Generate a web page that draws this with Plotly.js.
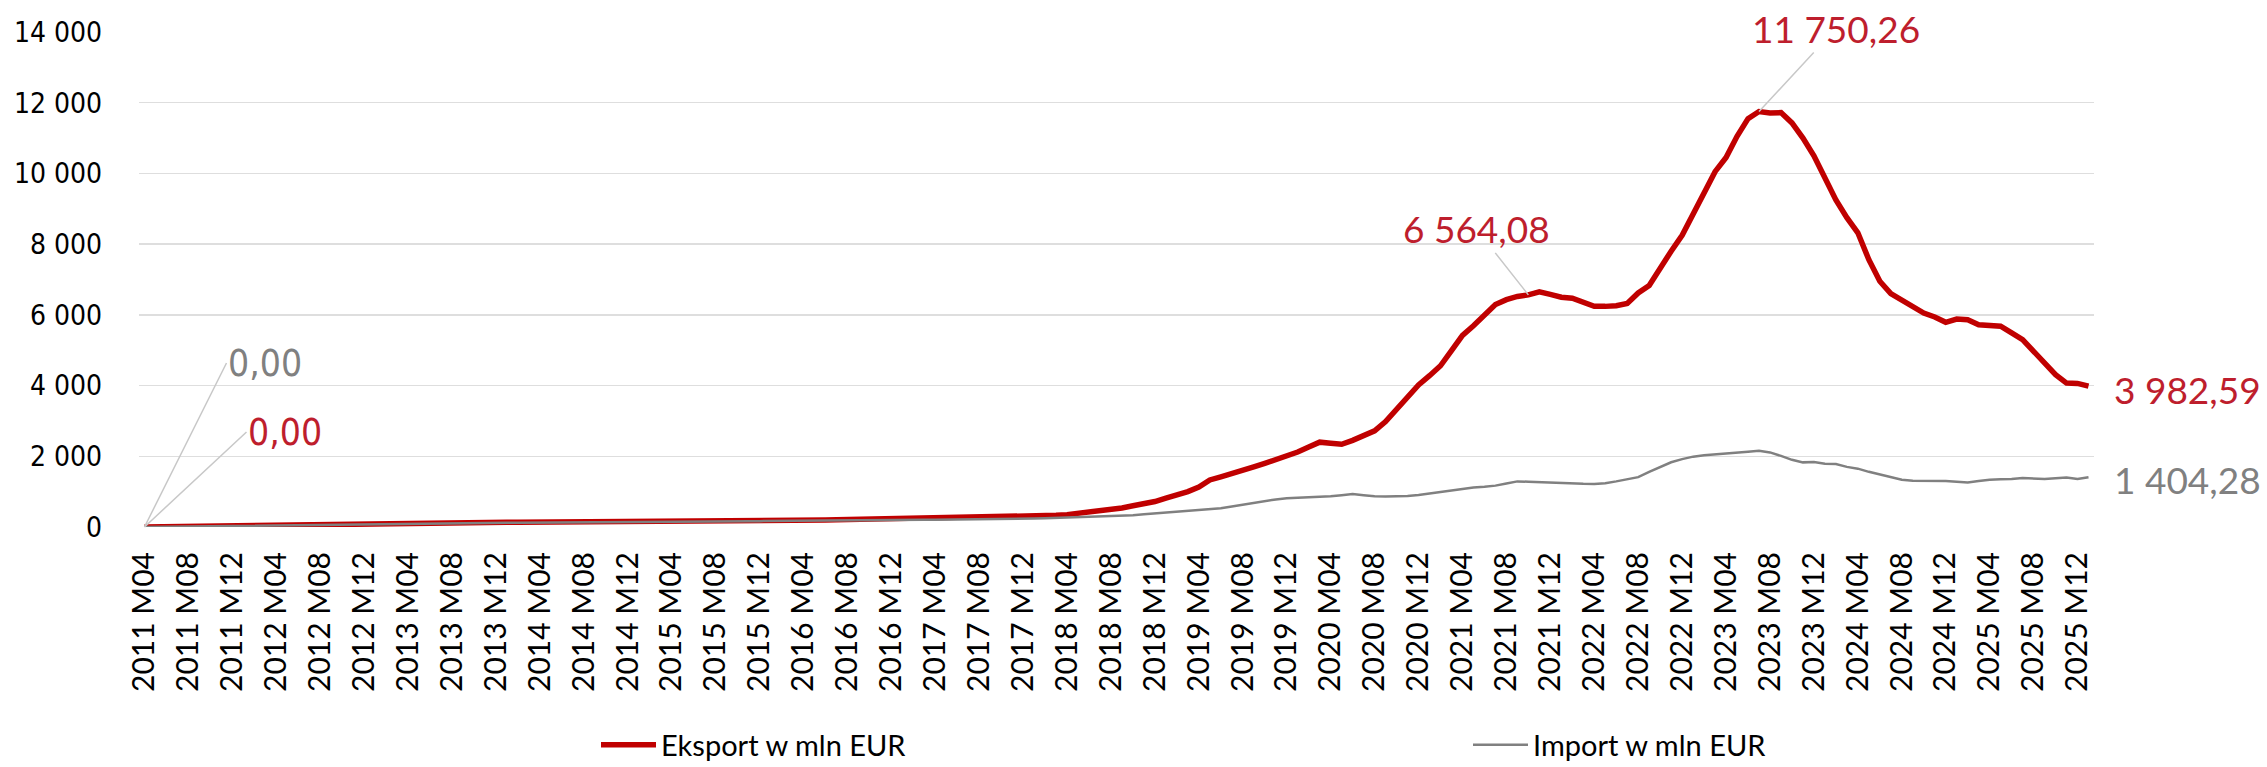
<!DOCTYPE html>
<html>
<head>
<meta charset="utf-8">
<script src="https://cdn.plot.ly/plotly-3.0.1.min.js"></script>
<style>html,body{margin:0;padding:0;background:#fff;}#chart{width:2267px;height:767px;}</style>
</head>
<body>
<div id="chart"></div>
<script>
// Categories: monthly, 2011 M04 .. 2026 M01
const startYear = 2011, startMonth = 4, monthCount = 178;
const months = [];
for (let k = 0; k < monthCount; k++) {
  const m0 = (startMonth - 1) + k;
  const y = startYear + Math.floor(m0 / 12);
  const m = (m0 % 12) + 1;
  months.push(y + ' M' + (m < 10 ? '0' + m : m));
}
// Tick labels: every 4th month
const tickLabels = months.filter((_, k) => k % 4 === 0);

// Eksport w mln EUR
const exportValues = [
  0, 5, 10, 15, 20, 26, 32, 38, 44,
  50, 55, 60, 65, 70, 75, 80, 84, 88, 92, 96, 100,
  104, 108, 111, 114, 117, 120, 122, 124, 126, 128, 130, 132,
  134, 135, 136, 137, 138, 139, 140, 141, 142, 142, 143, 144,
  145, 147, 150, 152, 155, 158, 160, 163, 166, 168, 170, 172,
  175, 180, 185, 190, 195, 200, 205, 210, 215, 220, 225, 228,
  230, 233, 236, 240, 245, 250, 255, 260, 265, 272, 280, 290,
  300, 315, 330, 350, 380, 410, 450, 490, 540, 600, 660, 720,
  820, 900, 1000, 1130, 1330, 1420, 1500, 1600, 1700, 1800, 1900, 2000,
  2120, 2260, 2400, 2370, 2340, 2450, 2580, 2720, 2980, 3320, 3660, 4020,
  4280, 4560, 4990, 5420, 5690, 6000, 6290, 6430, 6520, 6564.08, 6650, 6580,
  6500, 6470, 6350, 6240, 6240, 6260, 6320, 6620, 6830, 7350, 7800, 8250,
  8850, 9450, 10050, 10450, 11050, 11550, 11750.26, 11710, 11720, 11430, 11000, 10500,
  9850, 9250, 8750, 8320, 7560, 6950, 6600, 6410, 6200, 6050, 5940, 5790,
  5880, 5860, 5720, 5710, 5680, 5490, 5300, 4970, 4640, 4310, 4070, 4060,
  3982.59
];
// Import w mln EUR
const importValues = [
  0, 4, 8, 12, 16, 20, 25, 30, 35,
  40, 45, 50, 55, 60, 64, 68, 72, 76, 80, 84, 88,
  92, 95, 98, 101, 104, 106, 108, 110, 112, 114, 116, 118,
  119, 120, 121, 122, 123, 124, 125, 126, 127, 128, 129, 130,
  131, 133, 135, 138, 141, 144, 147, 150, 154, 158, 162, 166,
  170, 174, 178, 182, 186, 190, 194, 197, 199, 200, 201, 202,
  203, 204, 205, 206, 208, 210, 213, 216, 220, 225, 230, 236,
  242, 250, 260, 270, 280, 285, 290, 300, 315, 335, 360, 385,
  400, 415, 440, 465, 490, 530, 580, 630, 690, 740, 780, 810,
  820, 840, 860, 870, 900, 930, 900, 870, 866, 866, 875, 905,
  950, 985, 1040, 1090, 1120, 1140, 1170, 1230, 1290, 1280, 1265, 1262,
  1240, 1225, 1220, 1215, 1240, 1290, 1350, 1410, 1560, 1700, 1830, 1920,
  1990, 2030, 2050, 2070, 2090, 2130, 2158, 2110, 2010, 1900, 1828, 1840,
  1790, 1780, 1700, 1650, 1560, 1480, 1400, 1338, 1310, 1310, 1310, 1300,
  1280, 1262, 1300, 1338, 1350, 1357, 1386, 1370, 1357, 1380, 1403, 1357,
  1404.28
];
const seriesNames = ['Eksport w mln EUR', 'Import w mln EUR'];
const yTicks = [0, 2000, 4000, 6000, 8000, 10000, 12000, 14000];

function fmt(v) {
  const parts = v.toFixed(2).split('.');
  const intPart = parts[0].replace(/\B(?=(\d{3})+(?!\d))/g, ' ');
  return intPart + ',' + parts[1];
}

const RED = '#C00000', GREY = '#808080', LABEL_RED = '#BE1E2D', LEADER = '#c8c8c8';
const CAL = 'Lato, "Open Sans", sans-serif';
const VER = '"DejaVu Sans Condensed", "DejaVu Sans", Verdana, sans-serif';

const last = monthCount - 1;
const iPeak = exportValues.indexOf(Math.max(...exportValues));
const iMid = exportValues.indexOf(6564.08);

const traces = [
  {x: months, y: exportValues, type: 'scatter', mode: 'lines', name: seriesNames[0],
   line: {color: RED, width: 5.5, shape: 'linear'}, legend: 'legend'},
  {x: months, y: importValues, type: 'scatter', mode: 'lines', name: seriesNames[1],
   line: {color: GREY, width: 2.5}, legend: 'legend2'}
];

const annotations = [
  {x: months[0], y: importValues[0], text: fmt(importValues[0]), showarrow: true, arrowhead: 0,
   arrowwidth: 1.5, arrowcolor: LEADER, ax: 82, ay: -164, xanchor: 'left', yanchor: 'middle',
   font: {family: VER, size: 37, color: GREY}},
  {x: months[0], y: exportValues[0], text: fmt(exportValues[0]), showarrow: true, arrowhead: 0,
   arrowwidth: 1.5, arrowcolor: LEADER, ax: 102, ay: -95, xanchor: 'left', yanchor: 'middle',
   font: {family: VER, size: 37, color: LABEL_RED}},
  {x: months[iMid], y: exportValues[iMid], text: fmt(exportValues[iMid]), showarrow: true, arrowhead: 0,
   arrowwidth: 1.5, arrowcolor: LEADER, ax: -52, ay: -66, xanchor: 'center', yanchor: 'middle',
   font: {family: CAL, size: 37, color: LABEL_RED}},
  {x: months[iPeak], y: exportValues[iPeak], text: fmt(exportValues[iPeak]), showarrow: true, arrowhead: 0,
   arrowwidth: 1.5, arrowcolor: LEADER, ax: 77, ay: -83, xanchor: 'center', yanchor: 'middle',
   font: {family: CAL, size: 37, color: LABEL_RED}},
  {x: months[last], y: exportValues[last], text: fmt(exportValues[last]), showarrow: false,
   xanchor: 'left', yanchor: 'middle', xshift: 23, yshift: -3,
   font: {family: CAL, size: 37, color: LABEL_RED}},
  {x: months[last], y: importValues[last], text: fmt(importValues[last]), showarrow: false,
   xanchor: 'left', yanchor: 'middle', xshift: 23, yshift: -2,
   font: {family: CAL, size: 37, color: GREY}}
];

const legendCommon = {orientation: 'h', xanchor: 'left', y: -0.44, yanchor: 'middle',
  itemwidth: 55,
  font: {family: CAL, size: 29, color: '#000'}, bgcolor: 'rgba(0,0,0,0)', borderwidth: 0};

const layout = {
  width: 2267, height: 767,
  margin: {l: 139, r: 173, t: 32, b: 240, pad: 0, autoexpand: false},
  paper_bgcolor: '#ffffff', plot_bgcolor: '#ffffff',
  separators: ', ',
  showlegend: true,
  legend: Object.assign({}, legendCommon, {x: (596 - 139) / 1955}),
  legend2: Object.assign({}, legendCommon, {x: (1468 - 139) / 1955}),
  xaxis: {type: 'category', range: [-0.5, monthCount - 0.5], tickmode: 'array',
    tickvals: tickLabels, ticktext: tickLabels, tickangle: -90, ticks: '',
    showgrid: false, showline: false, zeroline: false, ticklabelstandoff: 18, automargin: false,
    tickfont: {family: CAL, size: 30, color: '#000'}},
  yaxis: {range: [0, 14000], tickmode: 'array', tickvals: yTicks, tickformat: ',d',
    showgrid: true, gridcolor: '#dedede', gridwidth: 1.5, zeroline: false, showline: false,
    ticks: '', ticklabelstandoff: 36, automargin: false,
    tickfont: {family: VER, size: 28, color: '#000'}},
  annotations: annotations,
  hovermode: false
};

Plotly.newPlot('chart', traces, layout, {displayModeBar: false, staticPlot: true});
</script>
</body>
</html>
